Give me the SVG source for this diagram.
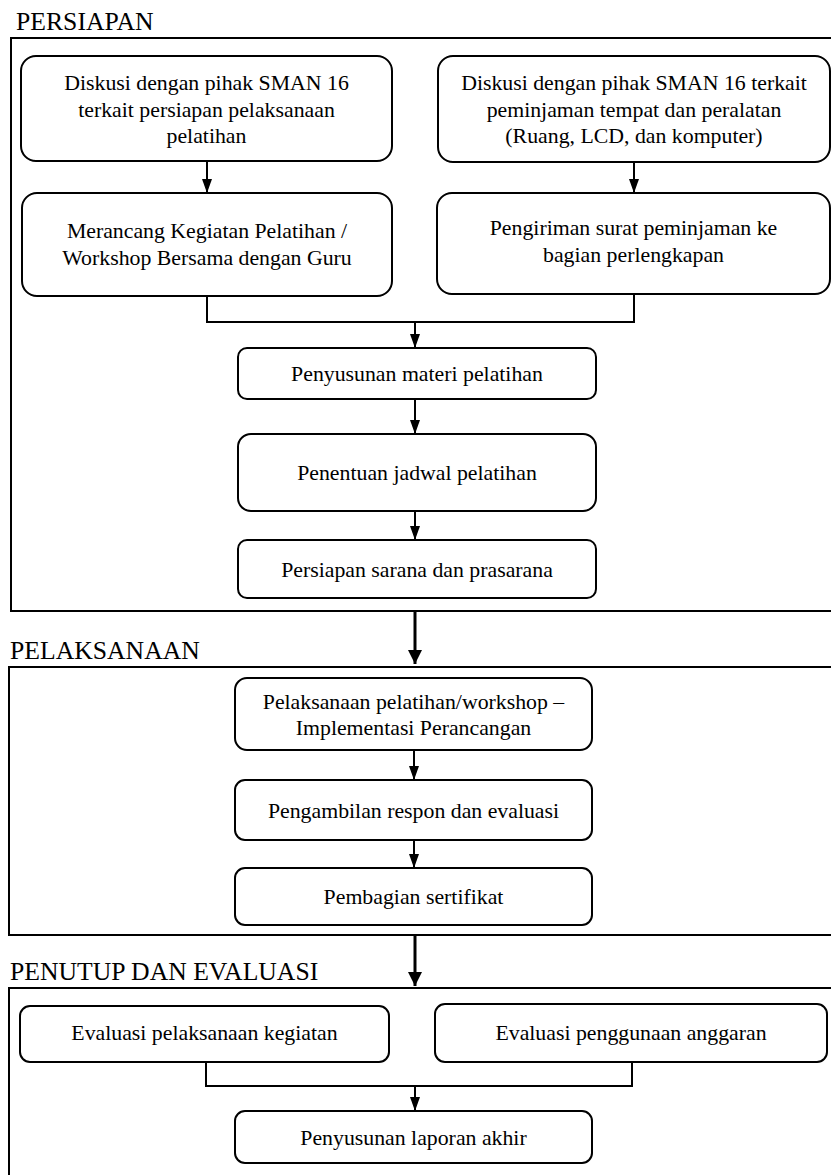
<svg xmlns="http://www.w3.org/2000/svg" width="831" height="1175" viewBox="0 0 831 1175">
<style>
.frame{fill:none;stroke:#000;stroke-width:2}
.box{fill:#fff;stroke:#000;stroke-width:2}
.t{font-family:"Liberation Serif","Times New Roman",serif;font-size:21.8px;fill:#000;text-anchor:middle}
.h{font-family:"Liberation Serif","Times New Roman",serif;font-size:25.7px;fill:#000}
.c{fill:none;stroke:#000;stroke-width:2}
.ct{fill:none;stroke:#000;stroke-width:3}
</style>
<defs>
<marker id="ah" viewBox="0 0 14 10" markerWidth="14" markerHeight="10" refX="14" refY="5" orient="auto" markerUnits="userSpaceOnUse"><path d="M0,0 L14,5 L0,10 z" fill="#000"/></marker>
<marker id="ahb" viewBox="0 0 14 14" markerWidth="14" markerHeight="14" refX="14" refY="7" orient="auto" markerUnits="userSpaceOnUse"><path d="M0,0 L14,7 L0,14 z" fill="#000"/></marker>
</defs>

<g id="sec-persiapan">
<text class="h" x="16" y="30">PERSIAPAN</text>
<rect class="frame" x="11" y="38" width="840" height="573"/>
</g>
<g id="sec-pelaksanaan">
<text class="h" x="10" y="659">PELAKSANAAN</text>
<rect class="frame" x="9" y="667" width="842" height="268"/>
</g>
<g id="sec-penutup">
<text class="h" x="10" y="980">PENUTUP DAN EVALUASI</text>
<rect class="frame" x="9" y="988" width="842" height="220"/>
</g>

<g id="connectors">
<line class="c" x1="207" y1="161" x2="207" y2="193" marker-end="url(#ah)"/>
<line class="c" x1="634" y1="162" x2="634" y2="193" marker-end="url(#ah)"/>
<polyline class="c" points="207,296 207,322 634,322 634,294"/>
<line class="c" x1="415" y1="322" x2="415" y2="348" marker-end="url(#ah)"/>
<line class="c" x1="415" y1="399" x2="415" y2="434" marker-end="url(#ah)"/>
<line class="c" x1="415" y1="511" x2="415" y2="540" marker-end="url(#ah)"/>
<line class="ct" x1="415" y1="612" x2="415" y2="664" marker-end="url(#ahb)"/>
<line class="c" x1="414" y1="750" x2="414" y2="780" marker-end="url(#ah)"/>
<line class="c" x1="414" y1="840" x2="414" y2="868" marker-end="url(#ah)"/>
<line class="ct" x1="415" y1="936" x2="415" y2="986" marker-end="url(#ahb)"/>
<polyline class="c" points="206,1062 206,1086 632,1086 632,1062"/>
<line class="c" x1="415" y1="1086" x2="415" y2="1111" marker-end="url(#ah)"/>
</g>

<g id="n1">
<rect class="box" x="21" y="56" width="371" height="105" rx="15"/>
<text class="t" x="206.5" y="90">Diskusi dengan pihak SMAN 16</text>
<text class="t" x="206.5" y="117">terkait persiapan pelaksanaan</text>
<text class="t" x="206.5" y="143">pelatihan</text>
</g>
<g id="n2">
<rect class="box" x="438" y="56" width="392" height="106" rx="15"/>
<text class="t" x="634" y="90">Diskusi dengan pihak SMAN 16 terkait</text>
<text class="t" x="634" y="117">peminjaman tempat dan peralatan</text>
<text class="t" x="634" y="143">(Ruang, LCD, dan komputer)</text>
</g>
<g id="n3">
<rect class="box" x="22" y="193" width="370" height="103" rx="15"/>
<text class="t" x="207" y="238">Merancang Kegiatan Pelatihan /</text>
<text class="t" x="207" y="265">Workshop Bersama dengan Guru</text>
</g>
<g id="n4">
<rect class="box" x="437" y="193" width="393" height="101" rx="15"/>
<text class="t" x="633.5" y="235">Pengiriman surat peminjaman ke</text>
<text class="t" x="633.5" y="262">bagian perlengkapan</text>
</g>
<g id="n5">
<rect class="box" x="238" y="348" width="358" height="51" rx="9"/>
<text class="t" x="417" y="381">Penyusunan materi pelatihan</text>
</g>
<g id="n6">
<rect class="box" x="238" y="434" width="358" height="77" rx="13"/>
<text class="t" x="417" y="480">Penentuan jadwal pelatihan</text>
</g>
<g id="n7">
<rect class="box" x="238" y="540" width="358" height="58" rx="9"/>
<text class="t" x="417" y="577">Persiapan sarana dan prasarana</text>
</g>
<g id="n8">
<rect class="box" x="235" y="678" width="357" height="72" rx="12"/>
<text class="t" x="413.5" y="709">Pelaksanaan pelatihan/workshop –</text>
<text class="t" x="413.5" y="735">Implementasi Perancangan</text>
</g>
<g id="n9">
<rect class="box" x="235" y="780" width="357" height="60" rx="10"/>
<text class="t" x="413.5" y="818">Pengambilan respon dan evaluasi</text>
</g>
<g id="n10">
<rect class="box" x="235" y="868" width="357" height="57" rx="10"/>
<text class="t" x="413.5" y="904">Pembagian sertifikat</text>
</g>
<g id="n11">
<rect class="box" x="20" y="1006" width="369" height="56" rx="10"/>
<text class="t" x="204.5" y="1040">Evaluasi pelaksanaan kegiatan</text>
</g>
<g id="n12">
<rect class="box" x="435" y="1004" width="392" height="58" rx="10"/>
<text class="t" x="631" y="1040">Evaluasi penggunaan anggaran</text>
</g>
<g id="n13">
<rect class="box" x="235" y="1111" width="357" height="52" rx="10"/>
<text class="t" x="413.5" y="1145">Penyusunan laporan akhir</text>
</g>
</svg>
